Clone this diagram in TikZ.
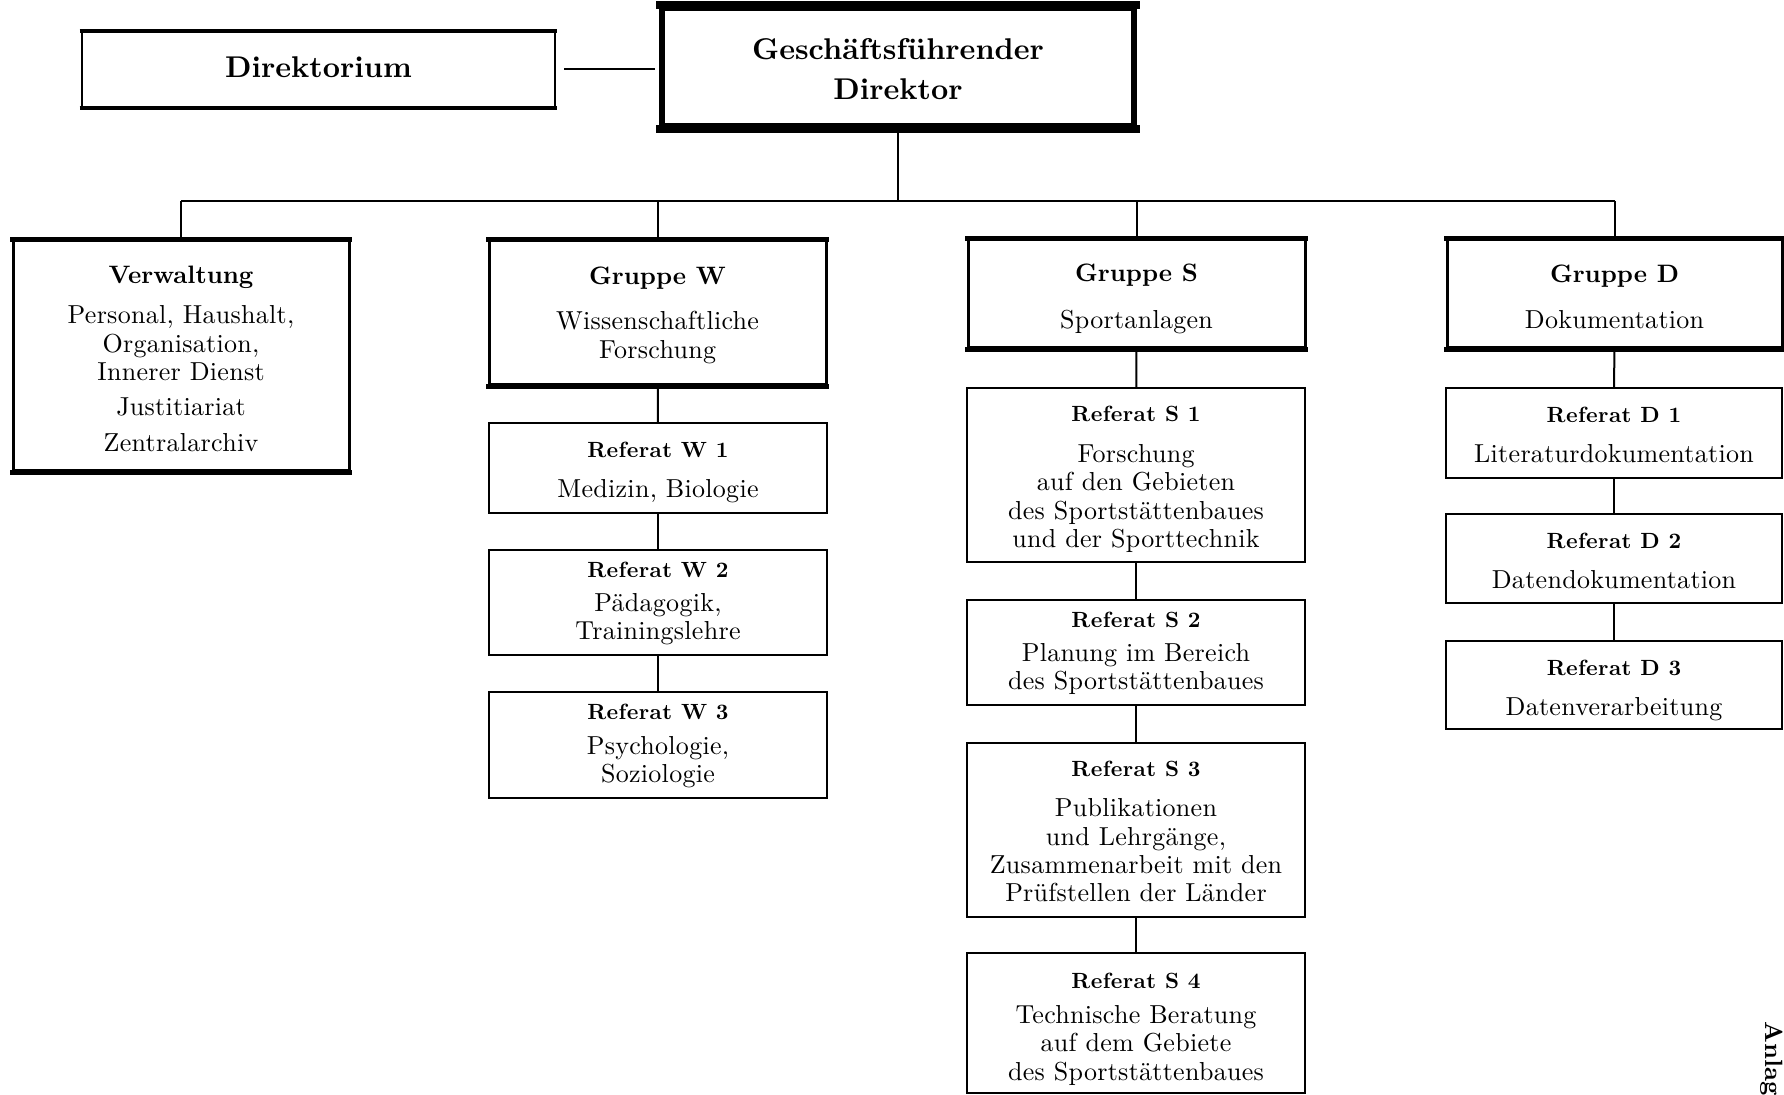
\documentclass[tikz,border=0pt]{standalone}
\usepackage{fontspec}
\setmainfont{lmroman10}[Extension=.otf, UprightFont=*-regular, BoldFont=*-bold, ItalicFont=*-italic, BoldItalicFont=*-bolditalic]
\newcommand\bodyfont{\fontsize{13}{14.2}\selectfont\addfontfeature{LetterSpace=1.1}}
\newcommand\rtitle[2][10.8pt]{{\bfseries\fontsize{11}{14.2}\selectfont\addfontfeature{LetterSpace=1.8}\rule{0pt}{#1}#2}}
\newcommand\gtitle[2][11pt]{{\bfseries\fontsize{12.6}{14.2}\selectfont\addfontfeature{LetterSpace=0}\rule{0pt}{#1}#2}}
\begin{document}
\begin{tikzpicture}[x=0.5pt,y=-0.5pt,
  box/.style={draw, rectangle, inner sep=0pt, align=center, font=\bodyfont},
  refbox/.style={box, line width=1pt, minimum width=169pt},
  grpbox/.style={box, line width=1.5pt, minimum width=168.5pt},
  topbox/.style={box, font=\bfseries\fontsize{15}{20}\selectfont},
  conn/.style={line width=1pt}]
\useasboundingbox (0,0) rectangle (1784,1095);

% top level
\node[topbox, line width=1.2pt, minimum width=236.5pt, minimum height=37.5pt] (dir) at (318.5,69.5) {Direktorium\rule[-2.3pt]{0pt}{0pt}};
\node[topbox, line width=3pt, minimum width=236pt, minimum height=59pt] (gf) at (898,67) {\rule{0pt}{12.7pt}Geschäftsführender\\Direktor};

% groups
\node[grpbox, minimum width=168pt, minimum height=115pt] (verw) at (181,356)
  {\gtitle[11.6pt]{Verwaltung}\\[5.8pt] Personal, Haushalt,\\ Organisation,\\ Innerer Dienst\\[3.4pt] Justitiariat\\[3.4pt] Zentralarchiv};
\node[grpbox, minimum height=72pt] (grpW) at (657.5,313)
  {\gtitle{Gruppe W}\\[8.6pt] Wissenschaftliche\\ Forschung};
\node[grpbox, minimum height=54pt] (grpS) at (1136.5,294)
  {\gtitle[13.8pt]{Gruppe S}\\[9.1pt] Sportanlagen};
\node[grpbox, minimum width=167.5pt, minimum height=54pt] (grpD) at (1614.5,294)
  {\gtitle[11.6pt]{Gruppe D}\\[9.1pt] Dokumentation};

% Referate W
\node[refbox, minimum height=45pt] (w1) at (658,468) {\rtitle[12.2pt]{Referat W 1}\\[5.8pt] Medizin, Biologie};
\node[refbox, minimum height=52.5pt] (w2) at (658,602.5) {\rtitle[8.8pt]{Referat W 2}\\[2.8pt] Pädagogik,\\ Trainingslehre};
\node[refbox, minimum height=53pt] (w3) at (658,745) {\rtitle[8.8pt]{Referat W 3}\\[3.4pt] Psychologie,\\ Soziologie};

% Referate S
\node[refbox, minimum height=87pt] (s1) at (1136,475) {\rtitle[12.2pt]{Referat S 1}\\[6.3pt] Forschung\\ auf den Gebieten\\ des Sportstättenbaues\\ und der Sporttechnik};
\node[refbox, minimum height=52.5pt] (s2) at (1136,652.5) {\rtitle[8.8pt]{Referat S 2}\\[2.8pt] Planung im Bereich\\ des Sportstättenbaues};
\node[refbox, minimum height=87pt] (s3) at (1136,830) {\rtitle[9.4pt]{Referat S 3}\\[5.8pt] Publikationen\\ und Lehrgänge,\\ Zusammenarbeit mit den\\ Prüfstellen der Länder};
\node[refbox, minimum height=70pt] (s4) at (1136,1023) {\rtitle[13.8pt]{Referat S 4}\\[3.4pt] Technische Beratung\\ auf dem Gebiete\\ des Sportstättenbaues};

% Referate D
\node[refbox, minimum width=168pt, minimum height=45pt] (d1) at (1614,433) {\rtitle[9.9pt]{Referat D 1}\\[5.8pt] Literaturdokumentation};
\node[refbox, minimum width=168pt, minimum height=44.5pt] (d2) at (1614,558.5) {\rtitle[9.9pt]{Referat D 2}\\[5.8pt] Datendokumentation};
\node[refbox, minimum width=168pt, minimum height=44pt] (d3) at (1614,685) {\rtitle[12.7pt]{Referat D 3}\\[5.8pt] Datenverarbeitung};

% thicker top and bottom edges
\foreach \n in {verw,grpW,grpS,grpD}{
  \draw[line width=2.5pt] ([xshift=-0.75pt]\n.north west) -- ([xshift=0.75pt]\n.north east);
  \draw[line width=2.5pt] ([xshift=-0.75pt]\n.south west) -- ([xshift=0.75pt]\n.south east);
}
\draw[line width=4pt] ([xshift=-1.5pt]gf.north west) -- ([xshift=1.5pt]gf.north east);
\draw[line width=4pt] ([xshift=-1.5pt]gf.south west) -- ([xshift=1.5pt]gf.south east);
\draw[line width=2.2pt] ([xshift=-0.6pt]dir.north west) -- ([xshift=0.6pt]dir.north east);
\draw[line width=2.2pt] ([xshift=-0.6pt]dir.south west) -- ([xshift=0.6pt]dir.south east);

% connectors
\coordinate (bus) at (0,201);
\draw[conn, shorten <=4pt, shorten >=2pt] (dir.east) -- (dir.east -| gf.west);
\draw[conn] (gf.south) -- (gf.south |- bus);
\draw[conn] (verw.north |- bus) -- (grpD.north |- bus);
\foreach \n in {verw,grpW,grpS,grpD}{
  \draw[conn] (\n.north |- bus) -- (\n.north);
}
\draw[conn] (grpW) -- (w1);
\draw[conn] (w1) -- (w2);
\draw[conn] (w2) -- (w3);
\draw[conn] (grpS) -- (s1);
\draw[conn] (s1) -- (s2);
\draw[conn] (s2) -- (s3);
\draw[conn] (s3) -- (s4);
\draw[conn] (grpD) -- (d1);
\draw[conn] (d1) -- (d2);
\draw[conn] (d2) -- (d3);

\node[rotate=-90, anchor=base west, inner sep=0pt, font=\bfseries\fontsize{12.5}{15}\selectfont] (anl) at (1765,1021) {Anlag};
\end{tikzpicture}
\end{document}
